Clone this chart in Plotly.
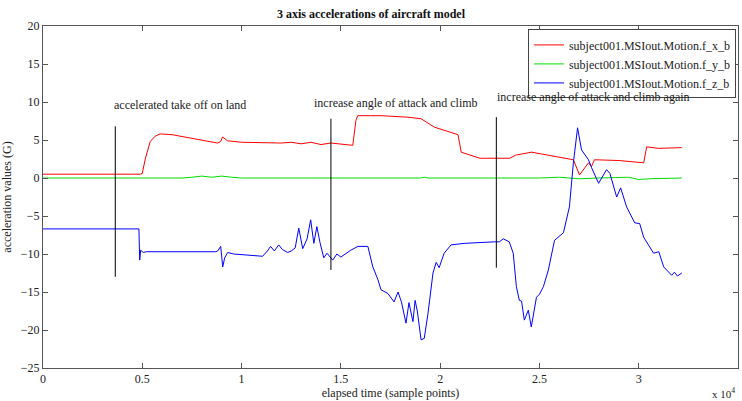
import plotly.graph_objects as go

# ---- data (sample index, acceleration in G) ----
fx_t = [0, 4900, 5000, 5150, 5400, 5650, 5900, 6500, 8790, 8950, 9040, 9290, 10000, 12000, 12500,
        13000, 13500, 14000, 14500, 15000, 15600, 15760, 15850, 16500, 17020, 18380, 19040, 19700,
        20700, 20900, 21060, 21300, 21720, 22000, 23500, 23800, 24600, 25200, 26200, 26710, 27020,
        27470, 27620, 27770, 29000, 30000, 30250, 30400, 31000, 32170]
fx_v = [0.5, 0.5, 0.6, 2.5, 4.8, 5.5, 5.8, 5.7, 4.6, 4.8, 5.4, 4.9, 4.7, 4.6, 4.7,
        4.5, 4.7, 4.4, 4.6, 4.5, 4.3, 7.6, 8.2, 8.2, 8.2, 8.0, 7.8, 6.7,
        5.9, 5.7, 3.4, 3.2, 2.8, 2.6, 2.6, 3.0, 3.4, 3.1, 2.6, 2.4, 0.4,
        2.0, 1.5, 2.4, 2.3, 2.0, 2.0, 4.1, 3.9, 4.0]

fy_t = [0, 7000, 7500, 8000, 8500, 9000, 9500, 10000, 19000, 19200, 19400, 25000, 26000, 27000,
        28000, 29000, 29500, 30000, 30500, 32170]
fy_v = [0.0, 0.0, 0.1, 0.25, 0.1, 0.25, 0.1, 0.0, 0.0, 0.1, 0.0, 0.0, 0.1, -0.1,
        0.0, 0.1, 0.1, -0.2, -0.1, 0.0]

fz_t = [0, 4800, 4830, 4870, 4920, 5050, 5200, 8700, 8800, 8950, 9050, 9150, 9300, 9600, 10500,
        11060, 11300, 11460, 11650, 11870, 12050, 12320, 12500, 12700, 12880, 13080, 13300, 13480,
        13640, 13790, 13950, 14140, 14300, 14590, 14800, 15000, 15500, 15860, 16360, 16610, 16870,
        17020, 17370, 17680, 17880, 18050, 18280, 18430, 18630, 18740, 18850, 19040, 19200, 19390,
        19640, 19800, 19950, 20200, 20550, 21210, 22730, 22980, 23180, 23480, 23680, 23840, 23990,
        24100, 24240, 24440, 24590, 24850, 25000, 25200, 25450, 25760, 26210, 26510, 26710, 26920,
        27120, 27470, 27620, 27980, 28380, 28550, 28890, 29090, 29390, 29800, 30050, 30250, 30750,
        31010, 31260, 31660, 31800, 31950, 32170]
fz_v = [-6.7, -6.7, -6.7, -10.8, -9.5, -9.8, -9.7, -9.7, -9.6, -9.0, -11.7, -10.5, -9.8, -10.0, -10.2,
        -10.3, -9.6, -9.0, -9.6, -8.8, -9.4, -9.8, -9.6, -9.2, -6.6, -9.3, -8.0, -5.5,
        -8.6, -6.4, -8.5, -10.5, -9.9, -10.8, -10.0, -10.4, -9.5, -9.0, -9.0, -11.7, -13.4,
        -14.7, -15.2, -16.3, -15.0, -16.3, -19.1, -16.4, -18.9, -16.1, -17.5, -21.3, -21.1, -17.8,
        -12.5, -11.1, -11.8, -9.9, -8.8, -8.6, -8.4, -8.4, -8.0, -8.4, -9.9, -14.3, -16.1,
        -16.2, -18.7, -17.4, -19.6, -15.7, -15.3, -14.3, -12.1, -8.2, -7.2, -3.8, 2.0, 6.6,
        3.7, 2.4, 1.4, -0.7, 1.1, 0.6, -2.5, -1.3, -3.8, -5.9, -6.0, -7.8, -9.9,
        -9.7, -11.7, -12.8, -12.4, -12.9, -12.5]

series_names = ["subject001.MSIout.Motion.f_x_b", "subject001.MSIout.Motion.f_y_b",
                "subject001.MSIout.Motion.f_z_b"]
series_colors = ["#ff0000", "#00dd00", "#0000ff"]

# event markers
event_x = [3640, 14500, 22830]
event_y0 = [-13.0, -12.1, -11.8]
event_y1 = [6.8, 7.8, 8.0]
event_labels = ["accelerated take off on land", "increase angle of attack and climb",
                "increase angle of attack and climb again"]
label_x = [6900, 17780, 27730]
label_y = [9.6, 9.9, 10.6]

x_tickvals = [0, 5000, 10000, 15000, 20000, 25000, 30000, 35000]
x_ticktext = ["0", "0.5", "1", "1.5", "2", "2.5", "3", "3.5"]
y_tickvals = [-25, -20, -15, -10, -5, 0, 5, 10, 15, 20]

FONT = "Liberation Serif"

fig = go.Figure()
for t, v, n, c in zip([fx_t, fy_t, fz_t], [fx_v, fy_v, fz_v], series_names, series_colors):
    fig.add_trace(go.Scatter(x=t, y=v, mode="lines", name=n, line=dict(color=c, width=1)))

for ex, y0, y1 in zip(event_x, event_y0, event_y1):
    fig.add_trace(go.Scatter(x=[ex, ex], y=[y0, y1], mode="lines", showlegend=False,
                             line=dict(color="black", width=1), hoverinfo="skip"))

for lx, ly, txt in zip(label_x, label_y, event_labels):
    fig.add_annotation(x=lx, y=ly, text=txt, showarrow=False, xref="x", yref="y",
                       font=dict(family=FONT, size=12, color="#222"))

fig.add_annotation(x=0.998, y=-0.072, xref="paper", yref="paper", text="x 10<sup>4</sup>",
                   showarrow=False, xanchor="right", yanchor="middle",
                   font=dict(family=FONT, size=11, color="#222"))

axis_common = dict(showline=True, linecolor="#555", linewidth=1, mirror="ticks",
                   ticks="inside", ticklen=5, tickcolor="#555", showgrid=False, zeroline=False,
                   tickfont=dict(family=FONT, size=12, color="#222"))

fig.update_layout(
    width=742, height=401,
    margin=dict(l=43, r=4, t=26, b=33),
    paper_bgcolor="white", plot_bgcolor="white",
    title=dict(text="<b>3 axis accelerations of aircraft model</b>", x=0.5, xanchor="center",
               y=0.965, yanchor="middle", font=dict(family=FONT, size=12, color="#111")),
    xaxis=dict(range=[0, 35000], tickvals=x_tickvals, ticktext=x_ticktext,
               title=dict(text="elapsed time (sample points)", standoff=2,
                          font=dict(family=FONT, size=12, color="#222")), **axis_common),
    yaxis=dict(range=[-25, 20], tickvals=y_tickvals,
               title=dict(text="acceleration values (G)", standoff=6,
                          font=dict(family=FONT, size=12, color="#222")), **axis_common),
    legend=dict(x=0.997, y=0.99, xanchor="right", yanchor="top", bgcolor="white",
                bordercolor="#444", borderwidth=1, tracegroupgap=0,
                font=dict(family=FONT, size=12, color="#222"), itemwidth=30),
    showlegend=True,
)

fig.write_html("out.html")
